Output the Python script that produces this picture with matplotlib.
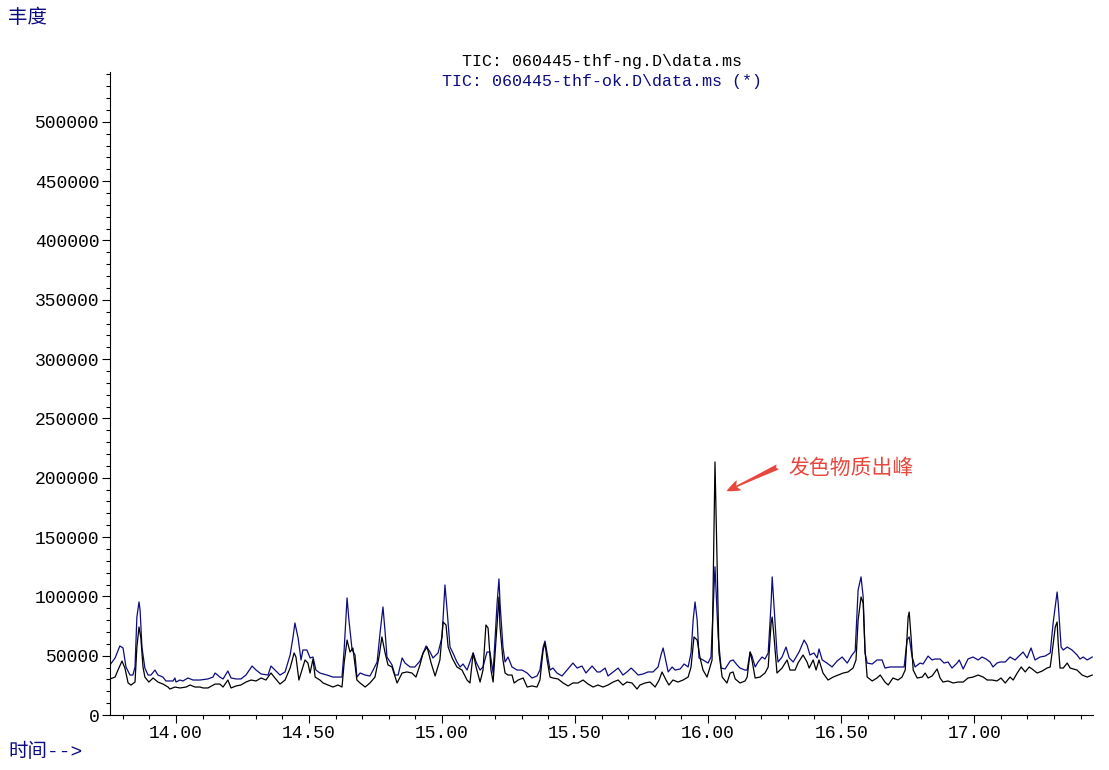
#!/usr/bin/env python3

import matplotlib
matplotlib.use('Agg')
import matplotlib.pyplot as plt
from matplotlib.ticker import MultipleLocator, FormatStrFormatter
import numpy as np

# retention time (min) and abundance
ok_time = [13.752, 13.771, 13.789, 13.801, 13.812, 13.827, 13.838, 13.846, 13.853, 13.861,
           13.865, 13.872, 13.883, 13.895, 13.906, 13.921, 13.932, 13.951, 13.962, 13.989,
           13.996, 14.000, 14.015, 14.026, 14.045, 14.064, 14.090, 14.120, 14.139, 14.147,
           14.165, 14.177, 14.195, 14.207, 14.226, 14.244, 14.263, 14.286, 14.301, 14.320,
           14.346, 14.357, 14.372, 14.391, 14.410, 14.429, 14.440, 14.447, 14.459, 14.470,
           14.477, 14.492, 14.504, 14.515, 14.526, 14.541, 14.568, 14.590, 14.624, 14.632,
           14.643, 14.650, 14.662, 14.673, 14.680, 14.692, 14.711, 14.729, 14.741, 14.756,
           14.767, 14.778, 14.786, 14.793, 14.812, 14.823, 14.835, 14.850, 14.861, 14.880,
           14.898, 14.917, 14.929, 14.940, 14.955, 14.966, 14.985, 15.000, 15.011, 15.019,
           15.030, 15.041, 15.056, 15.068, 15.079, 15.094, 15.105, 15.117, 15.128, 15.143,
           15.154, 15.169, 15.180, 15.192, 15.207, 15.214, 15.218, 15.229, 15.237, 15.248,
           15.263, 15.282, 15.301, 15.320, 15.338, 15.357, 15.368, 15.380, 15.387, 15.395,
           15.406, 15.417, 15.432, 15.451, 15.470, 15.492, 15.508, 15.526, 15.541, 15.564,
           15.583, 15.594, 15.613, 15.624, 15.643, 15.662, 15.680, 15.695, 15.711, 15.726,
           15.737, 15.756, 15.774, 15.793, 15.812, 15.823, 15.831, 15.838, 15.850, 15.865,
           15.876, 15.895, 15.910, 15.925, 15.936, 15.944, 15.951, 15.959, 15.966, 15.981,
           16.000, 16.011, 16.026, 16.038, 16.049, 16.064, 16.083, 16.094, 16.109, 16.120,
           16.139, 16.147, 16.158, 16.165, 16.177, 16.188, 16.203, 16.214, 16.226, 16.237,
           16.241, 16.248, 16.259, 16.263, 16.278, 16.293, 16.305, 16.320, 16.331, 16.342,
           16.361, 16.372, 16.383, 16.398, 16.410, 16.417, 16.429, 16.447, 16.466, 16.485,
           16.504, 16.523, 16.541, 16.553, 16.564, 16.575, 16.583, 16.590, 16.598, 16.617,
           16.635, 16.654, 16.665, 16.684, 16.703, 16.737, 16.748, 16.756, 16.767, 16.778,
           16.797, 16.808, 16.827, 16.842, 16.853, 16.872, 16.887, 16.902, 16.917, 16.936,
           16.944, 16.959, 16.977, 16.996, 17.015, 17.030, 17.045, 17.060, 17.071, 17.086,
           17.098, 17.117, 17.135, 17.154, 17.165, 17.184, 17.199, 17.214, 17.229, 17.248,
           17.267, 17.286, 17.297, 17.312, 17.316, 17.327, 17.335, 17.350, 17.368, 17.387,
           17.398, 17.410, 17.425, 17.444]
ok_abund = [42200, 48100, 58200, 56500, 40500, 33700, 33700, 40500, 82600, 95300,
            88500, 57300, 39600, 33700, 33700, 37900, 33700, 32000, 28700, 28700,
            31200, 27800, 29500, 28700, 31200, 29500, 29500, 30400, 32000, 35400,
            32000, 30400, 37100, 31200, 30400, 30400, 33700, 41300, 37900, 34600,
            33700, 41300, 37900, 33700, 36300, 50600, 65800, 77600, 64900, 46400,
            54800, 54800, 48100, 48900, 37900, 35400, 33700, 32000, 32000, 54800,
            98700, 80100, 54800, 50600, 32000, 35400, 33700, 32900, 37900, 44700,
            69100, 91100, 70000, 48900, 42200, 33700, 33700, 48100, 43800, 40500,
            40500, 45500, 52300, 58200, 53100, 48100, 52300, 65800, 109600, 88500,
            57300, 52300, 44700, 40500, 43000, 37900, 44700, 52300, 44700, 37900,
            40500, 53100, 53100, 35400, 94400, 114700, 94400, 57300, 44700, 48900,
            40500, 37900, 37900, 35400, 31200, 32900, 37900, 57300, 62400, 52300,
            37900, 39600, 35400, 32900, 37900, 43800, 39600, 41300, 35400, 41300,
            36300, 36300, 39600, 32900, 36300, 39600, 33700, 36300, 39600, 36300,
            33700, 34600, 36300, 36300, 40500, 50600, 56500, 48900, 36300, 40500,
            37900, 38800, 43000, 40500, 52300, 80100, 95300, 80100, 48100, 46400,
            43800, 48900, 125000, 65800, 39600, 38800, 45500, 46400, 42200, 39600,
            37900, 37900, 53100, 49700, 40500, 44700, 48900, 47200, 52300, 94400,
            116400, 91100, 52300, 44700, 48900, 57300, 48100, 44700, 48900, 53100,
            63200, 59000, 50600, 52300, 48100, 55700, 46400, 43800, 40500, 45500,
            48900, 43800, 50600, 54000, 105400, 116400, 99500, 52300, 43800, 43000,
            46400, 46400, 39600, 40500, 40500, 40500, 63200, 65800, 48900, 40500,
            43800, 43000, 49700, 46400, 47200, 47200, 43800, 44700, 39600, 43800,
            46400, 38800, 47200, 48900, 46400, 48900, 47200, 44700, 40500, 43800,
            44700, 44700, 48900, 46400, 48900, 53100, 48100, 56500, 46400, 48900,
            49700, 52300, 77600, 103700, 94400, 57300, 54800, 57300, 54800, 50600,
            47200, 48900, 46400, 48900]

ng_time = [13.752, 13.771, 13.782, 13.797, 13.808, 13.820, 13.831, 13.846, 13.853, 13.861,
           13.868, 13.876, 13.883, 13.898, 13.914, 13.932, 13.951, 13.970, 13.977, 13.996,
           14.015, 14.038, 14.053, 14.071, 14.090, 14.102, 14.120, 14.147, 14.165, 14.177,
           14.195, 14.207, 14.226, 14.244, 14.263, 14.282, 14.301, 14.320, 14.338, 14.357,
           14.372, 14.391, 14.410, 14.429, 14.444, 14.451, 14.462, 14.470, 14.485, 14.496,
           14.504, 14.515, 14.523, 14.541, 14.553, 14.571, 14.590, 14.609, 14.624, 14.632,
           14.643, 14.654, 14.665, 14.680, 14.692, 14.711, 14.729, 14.748, 14.763, 14.774,
           14.786, 14.797, 14.812, 14.831, 14.850, 14.868, 14.887, 14.902, 14.917, 14.929,
           14.944, 14.959, 14.974, 14.992, 15.004, 15.015, 15.023, 15.038, 15.056, 15.075,
           15.094, 15.105, 15.117, 15.128, 15.143, 15.154, 15.165, 15.173, 15.184, 15.192,
           15.207, 15.214, 15.218, 15.229, 15.237, 15.248, 15.263, 15.271, 15.286, 15.305,
           15.320, 15.338, 15.357, 15.368, 15.380, 15.387, 15.395, 15.406, 15.417, 15.436,
           15.455, 15.474, 15.492, 15.511, 15.530, 15.549, 15.568, 15.586, 15.605, 15.624,
           15.643, 15.662, 15.680, 15.695, 15.714, 15.733, 15.744, 15.763, 15.782, 15.801,
           15.816, 15.827, 15.842, 15.853, 15.868, 15.887, 15.906, 15.925, 15.936, 15.947,
           15.959, 15.970, 15.981, 15.996, 16.004, 16.015, 16.026, 16.041, 16.053, 16.071,
           16.083, 16.094, 16.102, 16.120, 16.139, 16.147, 16.158, 16.165, 16.177, 16.195,
           16.214, 16.226, 16.237, 16.241, 16.248, 16.259, 16.278, 16.297, 16.308, 16.327,
           16.338, 16.357, 16.372, 16.380, 16.395, 16.406, 16.417, 16.432, 16.451, 16.470,
           16.489, 16.508, 16.526, 16.545, 16.556, 16.564, 16.575, 16.583, 16.590, 16.598,
           16.617, 16.635, 16.647, 16.665, 16.677, 16.695, 16.714, 16.729, 16.741, 16.752,
           16.756, 16.763, 16.771, 16.786, 16.805, 16.816, 16.827, 16.842, 16.861, 16.872,
           16.883, 16.902, 16.921, 16.940, 16.959, 16.977, 16.996, 17.015, 17.034, 17.049,
           17.068, 17.086, 17.101, 17.117, 17.135, 17.147, 17.162, 17.177, 17.192, 17.207,
           17.218, 17.237, 17.256, 17.274, 17.286, 17.293, 17.305, 17.312, 17.316, 17.323,
           17.335, 17.350, 17.361, 17.387, 17.406, 17.425, 17.444]
ng_abund = [30400, 32000, 37900, 45500, 39600, 27000, 25300, 27800, 57300, 74200,
            64900, 40500, 32000, 27800, 31200, 27800, 26100, 23600, 21900, 23600,
            22800, 23600, 25300, 23600, 23600, 22800, 22800, 26100, 26100, 23600,
            29500, 22800, 24500, 25300, 27800, 29500, 28700, 31200, 29500, 35400,
            31200, 26100, 29500, 39600, 52300, 48900, 29500, 35400, 46400, 43800,
            35400, 47200, 32000, 29500, 27000, 25300, 23600, 25300, 23600, 43800,
            63200, 53100, 56500, 29500, 27000, 23600, 27000, 32000, 48900, 65800,
            52300, 42200, 40500, 27000, 35400, 36300, 35400, 32000, 42200, 52300,
            57300, 43800, 32900, 46400, 78400, 75900, 57300, 48100, 40500, 37900,
            29500, 27000, 52300, 40500, 27800, 37900, 75900, 73400, 37900, 27800,
            77600, 99500, 74200, 46400, 35400, 33700, 33700, 27000, 29500, 31200,
            23600, 24500, 23600, 29500, 54800, 60700, 46400, 32000, 31200, 30400,
            27000, 24500, 27000, 27000, 29500, 26100, 23600, 25300, 23600, 25300,
            27800, 29500, 25300, 27800, 27000, 21900, 25300, 27000, 27800, 23600,
            29500, 36300, 29500, 25300, 29500, 27800, 29500, 32000, 40500, 65800,
            63200, 48100, 37900, 32000, 37900, 46400, 213300, 52300, 32000, 27000,
            35400, 36300, 30400, 27000, 28700, 32000, 53100, 46400, 31200, 32000,
            35400, 40500, 77600, 82600, 65800, 35400, 39600, 46400, 37900, 37900,
            43800, 50600, 44700, 39600, 46400, 37900, 46400, 35400, 29500, 32000,
            33700, 35400, 36300, 39600, 46400, 80100, 99500, 94400, 54800, 32000,
            28700, 31200, 33700, 27800, 25300, 31200, 29500, 32000, 37900, 82600,
            86800, 65800, 37900, 31200, 32000, 35400, 31200, 32900, 38800, 31200,
            27800, 28700, 27000, 27800, 27800, 31200, 32000, 33700, 32000, 29500,
            29500, 28700, 31200, 27000, 32000, 29500, 35400, 40500, 36300, 40500,
            38800, 35400, 37100, 39600, 40500, 52300, 74200, 78400, 60700, 39600,
            39600, 43800, 39600, 37900, 33700, 32000, 33700]

title_ng = 'TIC: 060445-thf-ng.D\\data.ms'
title_ok = 'TIC: 060445-thf-ok.D\\data.ms (*)'
y_name = '丰度'
x_name = '时间-->'
note = '发色物质出峰'

navy = '#0c0c80'
red = '#e8473d'
mono = 'Liberation Mono'
cjk = ['Noto Sans CJK SC', 'DejaVu Sans']
mixed = ['Liberation Mono', 'Noto Sans CJK SC']   # dashes in mono, hanzi from cjk


def draw_chart():
    fig = plt.figure(figsize=(11.09, 7.70), dpi=100)
    ax = fig.add_axes([0.0992, 0.0714, 0.8864, 0.8351])

    ax.plot(ok_time, ok_abund, color=navy, lw=0.9)
    ax.plot(ng_time, ng_abund, color='black', lw=0.9)

    ax.set_xlim(13.752, 17.447)
    ax.set_ylim(0, 542000)

    # only left and bottom axis lines like the chemstation printout
    ax.spines['top'].set_visible(False)
    ax.spines['right'].set_visible(False)
    for s in ['left', 'bottom']:
        ax.spines[s].set_linewidth(0.8)

    ax.xaxis.set_major_locator(MultipleLocator(0.5))
    ax.xaxis.set_minor_locator(MultipleLocator(0.1))
    ax.xaxis.set_major_formatter(FormatStrFormatter('%.2f'))
    ax.yaxis.set_minor_locator(MultipleLocator(10000))
    ax.yaxis.set_major_formatter(FormatStrFormatter('%d'))
    ax.set_yticks(np.arange(0, 500001, 50000))

    ax.tick_params(which='major', direction='out', length=5.5, width=0.8, pad=2)
    ax.tick_params(which='minor', direction='out', length=3, width=0.8)
    for lab in ax.get_xticklabels() + ax.get_yticklabels():
        lab.set_fontfamily(mono)
        lab.set_fontsize(13)

    # titles of the two overlaid files
    fig.text(0.5424, 0.9195, title_ng, ha='center', va='center',
             family=mono, fontsize=12, color='black')
    fig.text(0.5424, 0.8948, title_ok, ha='center', va='center',
             family=mono, fontsize=12, color=navy)

    fig.text(0.0072, 0.9766, y_name, ha='left', va='center',
             family=mixed, fontsize=14, color=navy)
    fig.text(0.0072, 0.0234, x_name, ha='left', va='center',
             family=mixed, fontsize=14, color=navy)

    # mark the colour peak (tallest point of the ng run)
    i = int(np.argmax(ng_abund))
    t_peak, a_peak = ng_time[i], ng_abund[i]
    ax.annotate('', xy=(t_peak + 0.034, a_peak * 0.88),
                xytext=(t_peak + 0.245, a_peak * 0.985),
                arrowprops=dict(arrowstyle='fancy,head_length=1.0,head_width=0.8,tail_width=0.4',
                                color=red, lw=0))
    ax.text(t_peak + 0.275, a_peak * 0.977, note, ha='left', va='center',
            family=cjk, fontsize=15, color=red)

    fig.savefig('out.png', dpi=100)


if __name__ == '__main__':
    draw_chart()
